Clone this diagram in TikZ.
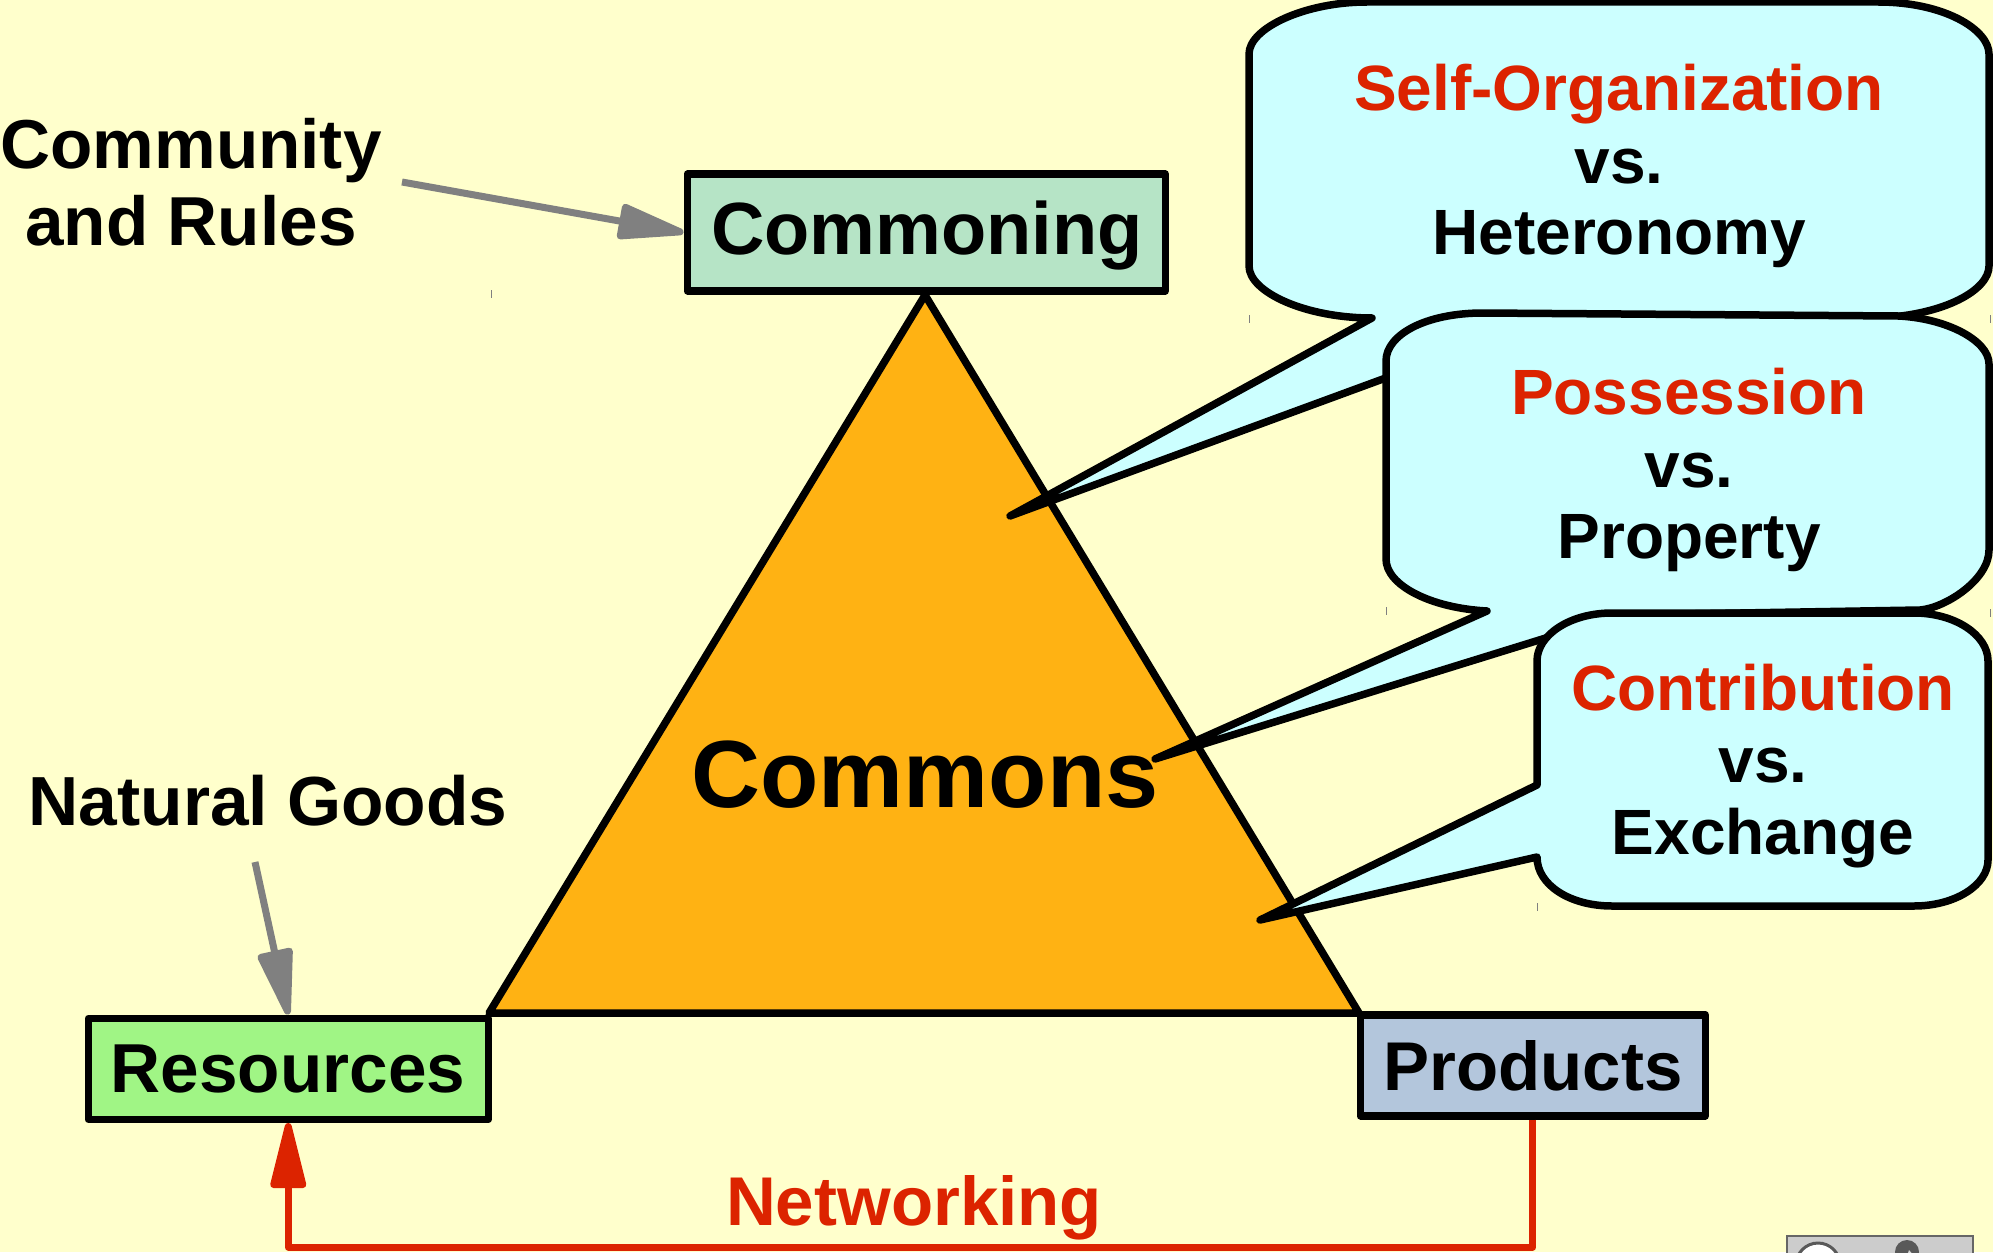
\documentclass[tikz,border=0pt]{standalone}
\usepackage{fontspec}
\setmainfont{Liberation Sans}[BoldFont={Liberation Sans Bold}]
\usetikzlibrary{arrows.meta}
\definecolor{bgc}{HTML}{FFFFCC}
\definecolor{tri}{HTML}{FFB213}
\definecolor{cmn}{HTML}{B6E4C6}
\definecolor{res}{HTML}{A0F585}
\definecolor{prd}{HTML}{B3C6DC}
\definecolor{bub}{HTML}{CCFFFF}
\definecolor{redc}{HTML}{DC2300}
\definecolor{gryc}{HTML}{808080}
\newcommand{\fs}[1]{\fontsize{#1}{#1}\selectfont\bfseries}
\tikzset{
  boxn/.style={draw=black,line width=7.5pt,line join=round,inner sep=0pt,anchor=north west},
  bubble/.style={draw=black,fill=bub,line width=7.5pt,line join=round},
  lbl/.style={inner sep=0pt,align=center,text=black,anchor=base},
  redl/.style={lbl,text=redc},
  grayarrow/.style={draw=gryc,line width=7pt,-{Triangle[length=77pt,width=36pt,round]}},
  redarrow/.style={draw=redc,line width=7pt,line join=round,-{Triangle[length=77pt,width=36pt,round]}},
  tick/.style={draw=gryc,line width=0.8pt}
}
\begin{document}
\begin{tikzpicture}[x=1pt,y=-1pt]
\useasboundingbox (0,0) rectangle (1993,1252);
\fill[bgc] (0,0) rectangle (1993,1252);
% ticks
\draw[tick] (491,290)--(491,298);
\draw[tick] (1249,315)--(1249,323);
\draw[tick] (1990,315)--(1990,323);
\draw[tick] (1386,607)--(1386,615);
\draw[tick] (1990,609)--(1990,617);
\draw[tick] (1537,903)--(1537,911);
% badge
\fill[fill=black!20,draw=black!60,line width=2pt] (1787,1256) -- (1787,1236) -- (1973,1236) -- (1973,1256);
\draw[black!65,fill=white,line width=3pt] (1818,1265) circle (22);
\fill[black!65] (1907,1252) circle (12);
\fill[black!15] (1909,1250) -- (1914,1256) -- (1907,1256) -- cycle;
% triangle
\draw[fill=tri,line width=7.5pt,line join=round] (925,295) coordinate (apex) -- (1359,1013) coordinate (tr) -- (489,1013) coordinate (tl) -- cycle;
% bubbles
\draw[bubble] (1367,2)--(1878,2) .. controls (1945,2) and (1989,30) .. (1989,54)
 -- (1989,266) .. controls (1989,290) and (1945,315) .. (1878,318)
 -- (1500,336) -- (1010,516) -- (1372,318)
 .. controls (1305,318) and (1249,292) .. (1249,266)
 -- (1249,54) .. controls (1249,28) and (1305,2) .. (1367,2) -- cycle;
\draw[bubble] (1483,313)--(1898,316) .. controls (1945,318) and (1989,340) .. (1989,364)
 -- (1989,550) .. controls (1989,580) and (1945,608) .. (1920,610)
 -- (1620,615) -- (1155,759) -- (1487,611)
 .. controls (1430,608) and (1386,585) .. (1386,559)
 -- (1386,361) .. controls (1386,335) and (1425,313) .. (1483,313) -- cycle;
\draw[bubble] (1612,613)--(1914,613) .. controls (1955,613) and (1988,635) .. (1988,661)
 -- (1988,860) .. controls (1988,885) and (1955,906) .. (1914,906)
 -- (1612,906) .. controls (1570,906) and (1537,885) .. (1537,857)
 -- (1260,920) -- (1537,785) -- (1537,661)
 .. controls (1537,635) and (1570,613) .. (1612,613) -- cycle;
% boxes
\node[boxn,fill=cmn,minimum width=478pt,minimum height=116.5pt] (commoning) at (683.5,170.5) {};
\node[boxn,fill=res,minimum width=400pt,minimum height=101pt] (resources) at (84.5,1014.5) {};
\node[boxn,fill=prd,minimum width=345pt,minimum height=101pt] (products) at (1356.5,1011) {};
% labels
\node[lbl] (commoninglbl) at (927,254) {\fs{74}Commoning};
\node[lbl] (resourceslbl) at (288,1092) {\fs{69.3}Resources};
\node[lbl] (productslbl) at (1533,1090) {\fs{69}Products};
\node[lbl] (commonslbl) at (925,807) {\fs{95.5}Commons};
\node[lbl] (communitylbl) at (191,168.5) {\fs{69.3}Community};
\node[lbl] (ruleslbl) at (191,245) {\fs{69.3}and Rules};
\node[lbl] (naturallbl) at (268,825) {\fs{69.5}Natural Goods};
\node[redl] (netlbl) at (914,1225) {\fs{69}Networking};
\node[redl] (s1a) at (1619,111) {\fs{64}Self-Organization};
\node[lbl] (s1b) at (1619,183) {\fs{64}vs.};
\node[lbl] (s1c) at (1619,254) {\fs{64}Heteronomy};
\node[redl] (s2a) at (1689,414) {\fs{64}Possession};
\node[lbl] (s2b) at (1689,487) {\fs{64}vs.};
\node[lbl] (s2c) at (1689,558) {\fs{64}Property};
\node[redl] (s3a) at (1763,710) {\fs{64}Contribution};
\node[lbl] (s3b) at (1763,782) {\fs{64}vs.};
\node[lbl] (s3c) at (1763,854) {\fs{64}Exchange};
% connectors
\coordinate (commsrc) at (402,182);
\coordinate (natsrc) at (255,862);
\coordinate (netbot) at (0,1247);
\draw[grayarrow] (commsrc) -- (commoning.west);
\draw[grayarrow] (natsrc) -- (resources.north);
\draw[redarrow] (products.south) -- (products.south |- netbot) -- (resources.south |- netbot) -- (resources.south);
\end{tikzpicture}
\end{document}
